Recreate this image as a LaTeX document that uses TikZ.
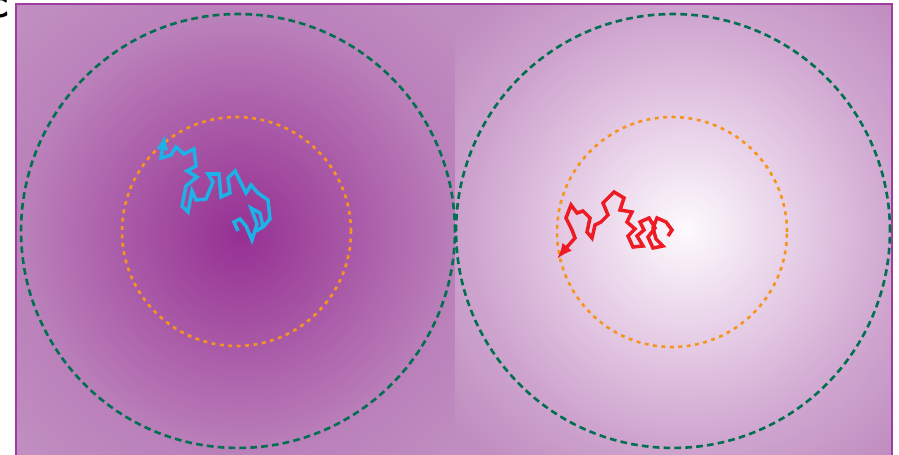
\documentclass[tikz,border=0pt]{standalone}
\usepackage{tikz}
\usetikzlibrary{arrows.meta}

\definecolor{bgpurple}{RGB}{192,142,192}
\definecolor{framepurple}{RGB}{160,60,160}
\definecolor{deepmag}{RGB}{150,48,147}
\definecolor{midmag}{RGB}{170,92,168}
\definecolor{rimmag}{RGB}{186,128,186}
\definecolor{paleglow}{RGB}{253,250,253}
\definecolor{softglow}{RGB}{228,202,228}
\definecolor{rimglow}{RGB}{206,164,206}
\definecolor{ringgreen}{RGB}{0,112,80}
\definecolor{ringorange}{RGB}{247,148,29}
\definecolor{walkblue}{RGB}{28,178,232}
\definecolor{walkred}{RGB}{237,28,36}

\pgfdeclareradialshading{darkwell}{\pgfpoint{0bp}{0bp}}{color(0bp)=(deepmag); color(10bp)=(midmag); color(18bp)=(rimmag); color(25bp)=(bgpurple); color(50bp)=(bgpurple)}
\pgfdeclareradialshading{lightwell}{\pgfpoint{0bp}{0bp}}{color(0bp)=(paleglow); color(10bp)=(softglow); color(18bp)=(rimglow); color(25bp)=(bgpurple); color(50bp)=(bgpurple)}

\begin{document}
\begin{tikzpicture}[x=0.02cm,y=-0.02cm]
        \tikzset{
            outerring/.style={ringgreen, line width=1.5pt, dash pattern=on 3.8pt off 2.4pt},
            innerring/.style={ringorange, line width=1.5pt, dash pattern=on 2.2pt off 2.6pt},
            walk/.style={line width=2pt, miter limit=4, -{Latex[length=9pt,width=7pt]}}
        }
        \useasboundingbox (0,0) rectangle (899,455);
        \fill[bgpurple] (16,4) rectangle (892,470);
        % glow around each well
        \begin{scope}
            \clip (16,4) rectangle (455.5,470);
            \shade[shading=darkwell] (240,235) circle (6cm);
        \end{scope}
        \begin{scope}
            \clip (455.5,4) rectangle (892,470);
            \shade[shading=lightwell] (686,229) circle (6cm);
        \end{scope}
        \draw[framepurple, line width=1.2pt] (16,470) -- (16,4) -- (892,4) -- (892,470);
        \node[font=\sffamily\bfseries\fontsize{24}{24}\selectfont, inner sep=0pt, anchor=base east] (label) at (9,18) {c};
        % rings
        \draw[outerring] (238,231) circle (4.34cm);
        \draw[outerring] (673,231) circle (4.34cm);
        \draw[innerring] (236.5,231.5) circle (2.29cm);
        \draw[innerring] (672,232) circle (2.30cm);
        % random walks
        \draw[walk, walkblue] (238,231) -- (234,222) -- (240,219) -- (246,226) -- (252,240) -- (257,224) -- (251,208) -- (260,213) -- (263,227) -- (256,231) -- (264,226) -- (270,219) -- (268,200) -- (258,193) -- (251,185) -- (246,193) -- (241,183) -- (235,171) -- (228,178) -- (230,193) -- (221,197) -- (219,174) -- (208,174) -- (213,182) -- (206,199) -- (196,200) -- (192,191) -- (188,212) -- (182,206) -- (186,186) -- (197,177) -- (187,171) -- (196,166) -- (194,149) -- (184,154) -- (176,147) -- (171,155) -- (161,158) -- (165,134);
        \draw[walk, walkred] (668,236) -- (672,230) -- (666,222) -- (657,218) -- (653,228) -- (656,239) -- (663,246) -- (653,248) -- (648,237) -- (655,228) -- (649,218) -- (640,222) -- (644,230) -- (637,236) -- (643,246) -- (633,247) -- (628,236) -- (635,229) -- (627,222) -- (632,212) -- (620,210) -- (624,198) -- (614,192) -- (603,203) -- (608,215) -- (601,222) -- (595,225) -- (592,238) -- (587,232) -- (590,218) -- (583,211) -- (577,213) -- (571,205) -- (566,218) -- (572,230) -- (575,238) -- (567,247) -- (557,259);
\end{tikzpicture}
\end{document}
